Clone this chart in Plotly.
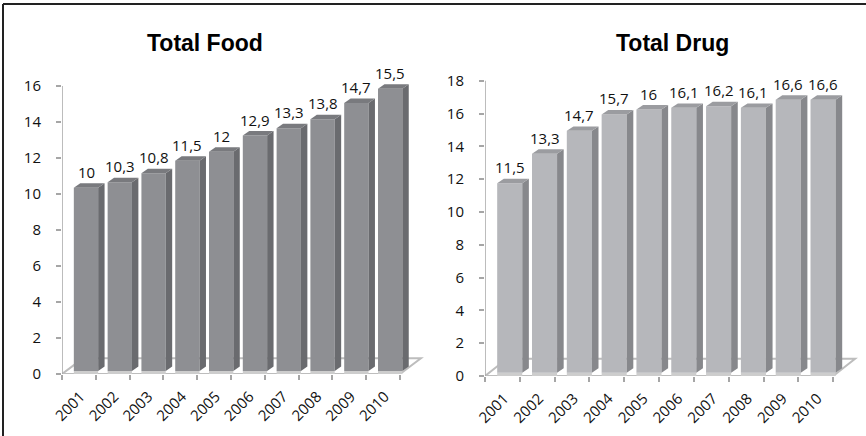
import plotly.graph_objects as go

years = ["2001", "2002", "2003", "2004", "2005", "2006", "2007", "2008", "2009", "2010"]
food = [10, 10.3, 10.8, 11.5, 12, 12.9, 13.3, 13.8, 14.7, 15.5]
drug = [11.5, 13.3, 14.7, 15.7, 16, 16.1, 16.2, 16.1, 16.6, 16.6]
food_ticks = [0, 2, 4, 6, 8, 10, 12, 14, 16]
drug_ticks = [0, 2, 4, 6, 8, 10, 12, 14, 16, 18]

W, H = 866, 436

panels = [
    dict(title="Total Food", values=food, ticks=food_ticks, xa="x", ya="y",
         xpx=(62, 427), xrange=10.8, ypx=(374, 50), yrange=18,
         front="#8e8f93", side="#6a6b6f", top="#797a7e",
         shift=0.35, base=0.17, dx=0.19, dy=0.25, fdx=0.62, fdy=0.87, title_x=205),
    dict(title="Total Drug", values=drug, ticks=drug_ticks, xa="x2", ya="y2",
         xpx=(485, 861), xrange=10.8, ypx=(376, 48), yrange=20,
         front="#b6b7bb", side="#87888c", top="#9b9ca0",
         shift=0.25, base=0.2, dx=0.19, dy=0.27, fdx=0.63, fdy=1.05, title_x=672),
]

fig = go.Figure()
shapes = []
annotations = []
FONT = "Open Sans, Lato, sans-serif"
FS = 15

for p in panels:
    xa, ya = p["xa"], p["ya"]
    n = len(p["values"])
    xl = [i + 0.35 for i in range(n)]
    xr = [i + 1.07 for i in range(n)]
    xc = [(a + b) / 2 for a, b in zip(xl, xr)]
    tops = [v + p["shift"] for v in p["values"]]

    # floor
    fx = [0, n, n + p["fdx"], p["fdx"], 0]
    fy = [0, 0, p["fdy"], p["fdy"], 0]
    path = "M " + " L ".join(f"{a},{b}" for a, b in zip(fx, fy)) + " Z"
    shapes.append(dict(type="path", path=path, xref=xa, yref=ya, layer="below",
                       fillcolor="#ffffff", line=dict(color="#bdbdbd", width=2)))
    # y axis line
    shapes.append(dict(type="line", xref=xa, yref=ya, x0=0, x1=0, y0=0, y1=p["ticks"][-1],
                       layer="below", line=dict(color="#a6a6a6", width=1.5)))

    # base strip
    fig.add_trace(go.Bar(x=xc, y=[p["base"]] * n, width=0.72, base=0,
                         marker=dict(color="#cdcdcd", line=dict(width=0)),
                         xaxis=xa, yaxis=ya, showlegend=False, hoverinfo="skip"))
    # front face
    fig.add_trace(go.Bar(x=xc, y=[t - p["base"] for t in tops], base=[p["base"]] * n, width=0.72,
                         marker=dict(color=p["front"], line=dict(width=0)),
                         xaxis=xa, yaxis=ya, showlegend=False, hoverinfo="skip"))
    # side & top faces
    for i in range(n):
        b, t = p["base"], tops[i]
        sx = [xr[i], xr[i], xr[i] + p["dx"], xr[i] + p["dx"], xr[i]]
        sy = [b, t, t + p["dy"], b + p["dy"], b]
        fig.add_trace(go.Scatter(x=sx, y=sy, mode="lines", fill="toself",
                                 fillcolor=p["side"], line=dict(width=0, color=p["side"]),
                                 xaxis=xa, yaxis=ya, showlegend=False, hoverinfo="skip"))
        tx = [xl[i], xr[i], xr[i] + p["dx"], xl[i] + p["dx"], xl[i]]
        ty = [t, t, t + p["dy"], t + p["dy"], t]
        fig.add_trace(go.Scatter(x=tx, y=ty, mode="lines", fill="toself",
                                 fillcolor=p["top"], line=dict(width=0, color=p["top"]),
                                 xaxis=xa, yaxis=ya, showlegend=False, hoverinfo="skip"))
        annotations.append(dict(x=xc[i], y=t, xref=xa, yref=ya, showarrow=False,
                                text=f"{p['values'][i]:g}".replace(".", ","),
                                yanchor="middle", yshift=16,
                                font=dict(family=FONT, size=FS, color="#111")))

    annotations.append(dict(x=p["title_x"] / W, y=1 - 43 / H, xref="paper", yref="paper",
                            showarrow=False, text=f"<b>{p['title']}</b>",
                            xanchor="center", yanchor="middle",
                            font=dict(family="Liberation Sans, Arial, sans-serif", size=23, color="#000")))

    x0, x1 = p["xpx"]
    yb, yt = p["ypx"]
    xkey = "xaxis" if xa == "x" else "xaxis2"
    ykey = "yaxis" if ya == "y" else "yaxis2"
    fig.update_layout(**{
        xkey: dict(domain=[x0 / W, x1 / W], range=[0, p["xrange"]], anchor=ya,
                   tickmode="array", tickvals=[i + 0.55 for i in range(n)], ticktext=years,
                   tickangle=-45, ticks="", showline=False, showgrid=False, zeroline=False,
                   ticklabelstandoff=10, automargin=False,
                   tickfont=dict(family=FONT, size=FS, color="#111"),
                   minor=dict(tickmode="array", tickvals=list(range(n + 1)), ticks="outside",
                              ticklen=5, tickcolor="#a6a6a6", tickwidth=1.5, showgrid=False),
                   fixedrange=True),
        ykey: dict(domain=[1 - yb / H, 1 - yt / H], range=[0, p["yrange"]], anchor=xa,
                   tickmode="array", tickvals=p["ticks"], ticks="outside", ticklen=5,
                   tickcolor="#a6a6a6", tickwidth=1.5, showline=False, showgrid=False,
                   zeroline=False, ticklabelstandoff=12, automargin=False,
                   tickfont=dict(family=FONT, size=FS, color="#111"), fixedrange=True),
    })

# outer border (top and left)
shapes.append(dict(type="line", xref="paper", yref="paper", x0=3 / W, x1=1, y0=1 - 4 / H, y1=1 - 4 / H,
                   line=dict(color="#222", width=2)))
shapes.append(dict(type="line", xref="paper", yref="paper", x0=3 / W, x1=3 / W, y0=0, y1=1 - 4 / H,
                   line=dict(color="#222", width=2)))

fig.update_layout(width=W, height=H, margin=dict(l=0, r=0, t=0, b=0, autoexpand=False),
                  paper_bgcolor="white", plot_bgcolor="rgba(0,0,0,0)",
                  barmode="overlay", shapes=shapes, annotations=annotations,
                  showlegend=False)

fig.write_html("out.html")
